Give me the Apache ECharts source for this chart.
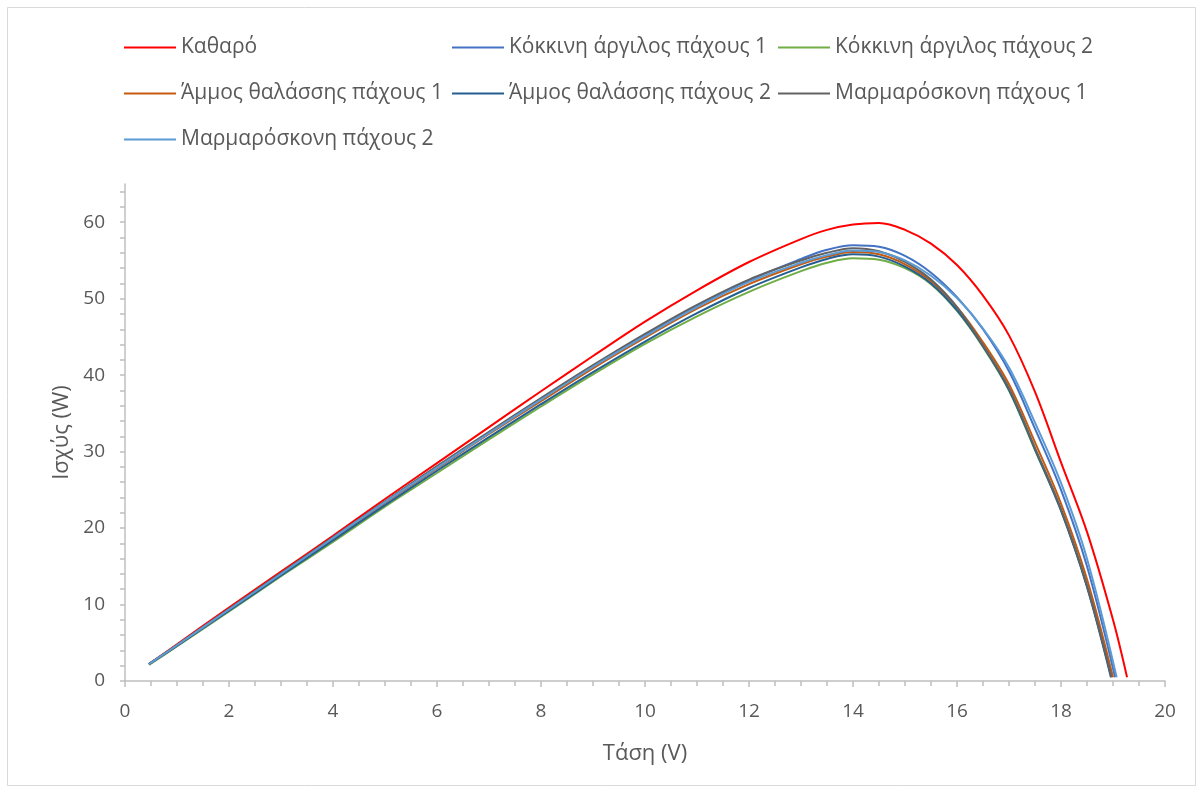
<!DOCTYPE html>
<html>
<head>
<meta charset="utf-8">
<script src="https://cdn.jsdelivr.net/npm/echarts@6/dist/echarts.min.js"></script>
<style>
html,body{margin:0;padding:0;background:#fff;}
#chart{width:1203px;height:793px;}
</style>
</head>
<body>
<div id="chart"></div>
<script>
// ---- Data ----
const seriesNames = [
  'Καθαρό',
  'Κόκκινη άργιλος πάχους 1',
  'Κόκκινη άργιλος πάχους 2',
  'Άμμος θαλάσσης πάχους 1',
  'Άμμος θαλάσσης πάχους 2',
  'Μαρμαρόσκονη πάχους 1',
  'Μαρμαρόσκονη πάχους 2'
];
const seriesColors = ['#FF0000','#4472C4','#70AD47','#C55A11','#255E91','#636363','#5B9BD5'];

const vKatharo = [0.48,1,2,3,4,5,6,7,8,9,10,11,12,13,13.5,14,14.5,15,15.5,16,16.5,17,17.5,18,18.5,19,19.27];
const pKatharo = [2.3,4.8,9.6,14.3,19.0,23.8,28.5,33.2,37.9,42.5,47.0,51.1,54.8,57.8,59.0,59.7,59.9,59.0,57.2,54.4,50.4,45.2,37.8,28.6,19.5,8.0,0.5];

const vKokkini1 = [0.46,1,2,3,4,5,6,7,8,9,10,11,12,13,13.5,14,14.5,15,15.5,16,16.5,17,17.5,18,18.5,19.04];
const pKokkini1 = [2.2,4.68,9.36,14.05,18.7,23.4,28.0,32.5,36.9,41.1,45.2,49.0,52.4,55.2,56.4,57.0,56.8,55.6,53.4,50.2,46.0,40.5,33.0,25.0,15.0,0.5];

const vKokkini2 = [0.46,1,2,3,4,5,6,7,8,9,10,11,12,13,13.5,14,14.5,15,15.5,16,16.5,17,17.5,18,18.5,18.97];
const pKokkini2 = [2.1,4.55,9.1,13.7,18.2,22.8,27.2,31.6,35.9,40.1,44.1,47.7,50.9,53.6,54.7,55.3,55.1,54.0,51.9,48.4,43.7,38.0,30.2,22.3,12.4,0.5];

const vAmmos1 = [0.46,1,2,3,4,5,6,7,8,9,10,11,12,13,13.5,14,14.5,15,15.5,16,16.5,17,17.5,18,18.5,19.0];
const pAmmos1 = [2.2,4.65,9.3,14.0,18.6,23.3,27.8,32.3,36.6,40.9,44.9,48.7,51.9,54.5,55.5,56.1,55.8,54.5,52.3,48.9,44.3,38.8,31.2,23.2,13.3,0.5];

const vAmmos2 = [0.46,1,2,3,4,5,6,7,8,9,10,11,12,13,13.5,14,14.5,15,15.5,16,16.5,17,17.5,18,18.5,18.96];
const pAmmos2 = [2.2,4.6,9.2,13.8,18.4,23.0,27.5,31.9,36.2,40.4,44.4,48.1,51.4,54.1,55.2,55.8,55.5,54.2,52.0,48.5,43.8,38.1,30.3,22.3,12.3,0.5];

const vMarmaro1 = [0.46,1,2,3,4,5,6,7,8,9,10,11,12,13,13.5,14,14.5,15,15.5,16,16.5,17,17.5,18,18.5,18.97];
const pMarmaro1 = [2.2,4.7,9.4,14.1,18.8,23.5,28.1,32.6,37.0,41.3,45.4,49.2,52.5,55.0,56.0,56.6,56.2,54.8,52.5,48.9,43.9,38.3,30.5,22.5,12.5,0.5];

const vMarmaro2 = [0.46,1,2,3,4,5,6,7,8,9,10,11,12,13,13.5,14,14.5,15,15.5,16,16.5,17,17.5,18,18.5,19.07];
const pMarmaro2 = [2.2,4.67,9.35,14.0,18.7,23.4,27.9,32.4,36.8,41.1,45.1,48.9,52.2,54.7,55.7,56.3,56.1,55.0,53.0,50.1,46.1,41.0,33.8,25.9,16.0,0.5];

const xTicks = [0,2,4,6,8,10,12,14,16,18,20];
const yTicks = [0,10,20,30,40,50,60];
const xTitle = 'Τάση (V)';
const yTitle = 'Ισχύς (W)';

// ---- Build ----
const vols = [vKatharo,vKokkini1,vKokkini2,vAmmos1,vAmmos2,vMarmaro1,vMarmaro2];
const pows = [pKatharo,pKokkini1,pKokkini2,pAmmos1,pAmmos2,pMarmaro1,pMarmaro2];
const zip = (a,b) => a.map((v,i)=>[v,b[i]]);

const FONT = '"Open Sans", "Noto Sans", sans-serif';
const TXT = '#595959';
const AX = '#BFBFBF';

const yMinorTicks = [];
for (let v = 0; v <= 64; v += 2) yMinorTicks.push(v);

const series = seriesNames.map((n,i)=>({
  name: n,
  type: 'line',
  data: zip(vols[i], pows[i]),
  showSymbol: false,
  symbol: 'none',
  smooth: 0.35,
  lineStyle: { color: seriesColors[i], width: 2 },
  itemStyle: { color: seriesColors[i] },
  z: 2 + i
}));

const legendBase = {
  orient: 'vertical',
  padding: 0,
  itemWidth: 52,
  itemHeight: 20,
  itemGap: 25,
  icon: 'path://M0,9 L52,9 L52,11 L0,11 Z',
  textStyle: { fontFamily: FONT, fontSize: 21, color: TXT, lineHeight: 20 },
  selectedMode: false
};

const chart = echarts.init(document.getElementById('chart'), null, {renderer:'canvas'});
chart.setOption({
  backgroundColor: '#fff',
  animation: false,
  graphic: [{
    type: 'rect', shape: { x: 7.5, y: 7.5, width: 1188, height: 778 },
    style: { fill: 'none', stroke: '#D9D9D9', lineWidth: 1 }, silent: true, z: -1
  }],
  legend: [
    Object.assign({}, legendBase, { left: 124, top: 37, data: [seriesNames[0], seriesNames[3], seriesNames[6]] }),
    Object.assign({}, legendBase, { left: 452, top: 37, data: [seriesNames[1], seriesNames[4]] }),
    Object.assign({}, legendBase, { left: 778, top: 37, data: [seriesNames[2], seriesNames[5]] })
  ],
  grid: { left: 125, right: 38, top: 184, bottom: 112, containLabel: false },
  xAxis: {
    type: 'value', min: 0, max: 20, interval: 2,
    name: xTitle, nameLocation: 'middle', nameGap: 62,
    nameTextStyle: { fontFamily: FONT, fontSize: 22, color: TXT },
    axisLine: { show: true, onZero: false, lineStyle: { color: AX, width: 1.5 } },
    axisTick: { show: true, inside: false, length: 6, lineStyle: { color: AX, width: 1.5 } },
    minorTick: { show: true, splitNumber: 4, length: 5, lineStyle: { color: AX, width: 1.5 } },
    axisLabel: { fontFamily: FONT, fontSize: 19, color: TXT, margin: 21,
      formatter: v => xTicks.indexOf(v) >= 0 ? String(v) : '' },
    splitLine: { show: false }
  },
  yAxis: {
    type: 'value', min: 0, max: 65, interval: 10,
    name: yTitle, nameLocation: 'middle', nameGap: 50, nameRotate: 90,
    nameTextStyle: { fontFamily: FONT, fontSize: 22, color: TXT },
    axisLine: { show: true, onZero: false, lineStyle: { color: AX, width: 1.5 } },
    axisTick: { show: true, inside: false, length: 5, customValues: yMinorTicks, lineStyle: { color: AX, width: 1.5 } },
    axisLabel: { fontFamily: FONT, fontSize: 19, color: TXT, margin: 20, customValues: yTicks },
    splitLine: { show: false }
  },
  series: series
});
</script>
</body>
</html>
